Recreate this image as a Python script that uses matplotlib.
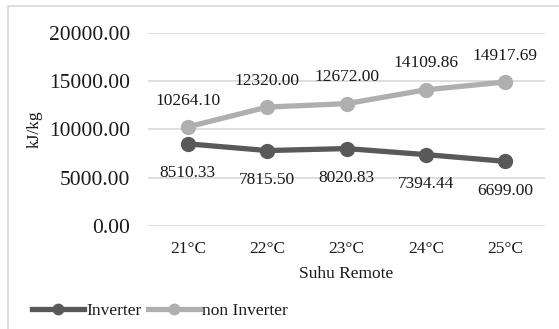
import matplotlib.pyplot as plt
from matplotlib.patches import Rectangle

# data
suhu = ['21°C', '22°C', '23°C', '24°C', '25°C']
inverter = [8510.33, 7815.50, 8020.83, 7394.44, 6699.00]
non_inverter = [10264.10, 12320.00, 12672.00, 14109.86, 14917.69]

plt.rcParams['font.family'] = ['Liberation Serif', 'DejaVu Serif']

fig = plt.figure(figsize=(5.59, 3.29), dpi=100)
ax = fig.add_axes([0.265, 0.313, 0.71, 0.587])

# light border around the chart area (runs off the right/bottom edge)
fig.patches.append(Rectangle((8 / 559, -0.02), 1.0, 1 - 6 / 329 + 0.02,
                             transform=fig.transFigure, fill=False,
                             edgecolor='#d9d9d9', linewidth=1.2))

x = list(range(len(suhu)))
dark = '#595959'
light = '#afafaf'

ax.plot(x, inverter, color=dark, lw=3.8, marker='o', ms=10, label='Inverter', zorder=3)
ax.plot(x, non_inverter, color=light, lw=3.8, marker='o', ms=10, label='non Inverter', zorder=3)

for i in x:
    ax.annotate(f'{inverter[i]:.2f}', (i, inverter[i]), xytext=(0, -21),
                textcoords='offset points', ha='center', va='center',
                fontsize=12.5, color='#1a1a1a')
    ax.annotate(f'{non_inverter[i]:.2f}', (i, non_inverter[i]), xytext=(0, 19),
                textcoords='offset points', ha='center', va='center',
                fontsize=12.5, color='#1a1a1a')

ax.set_xlim(-0.5, 4.5)
ax.set_ylim(0, 20000)
ax.set_yticks([0, 5000, 10000, 15000, 20000])
ax.set_yticklabels([f'{v:.2f}' for v in [0, 5000, 10000, 15000, 20000]], fontsize=15.5)
ax.set_xticks(x)
ax.set_xticklabels(suhu, fontsize=12.5)
ax.tick_params(length=0, pad=13, colors='#1a1a1a')
ax.tick_params(axis='x', pad=11)
ax.grid(axis='y', color='#d9d9d9', lw=1.2)
ax.set_axisbelow(True)
for s in ax.spines.values():
    s.set_visible(False)

ax.set_xlabel('Suhu Remote', fontsize=12.5, color='#1a1a1a', labelpad=6)
ax.set_ylabel('kJ/kg', fontsize=12.5, color='#1a1a1a')
ax.yaxis.set_label_coords(-0.265, 0.5)

fig.legend(loc='center left', bbox_to_anchor=(0.03, 0.055), ncol=2, frameon=False,
           fontsize=12.5, handlelength=3.0, handletextpad=0.1, columnspacing=0.4,
           markerscale=0.75, labelcolor='#1a1a1a')

plt.savefig('out.png', dpi=100)
